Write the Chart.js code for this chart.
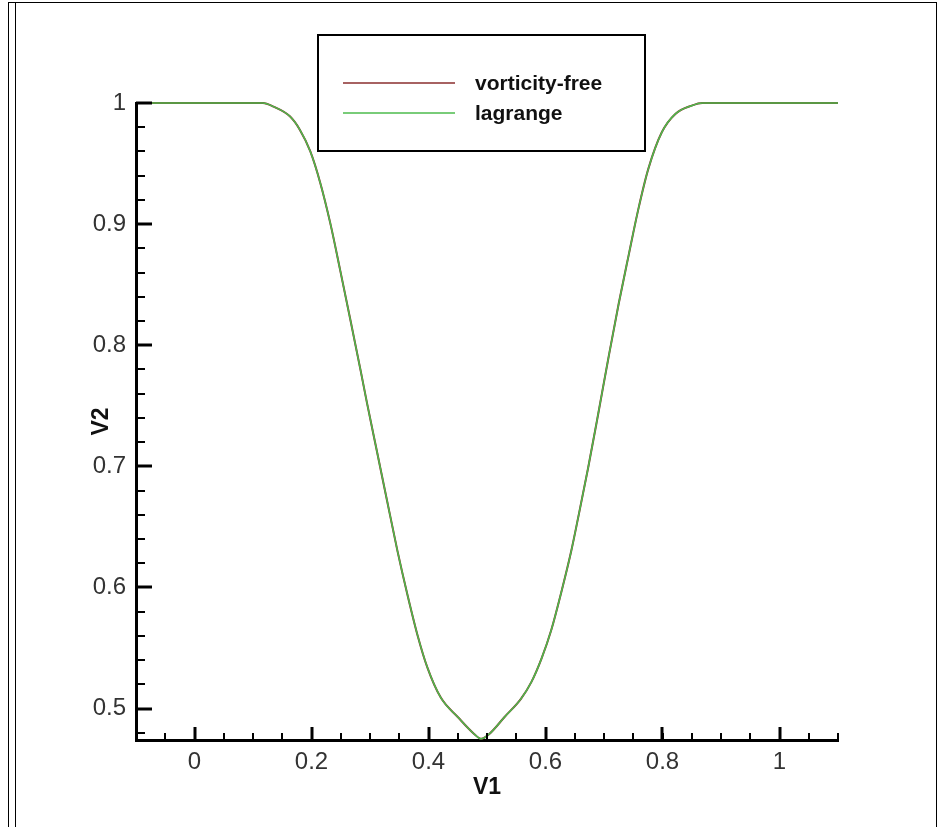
<!DOCTYPE html>
<html>
<head>
<meta charset="utf-8">
<script src="https://cdn.jsdelivr.net/npm/chart.js@4.4.0/dist/chart.umd.min.js"></script>
<style>
html, body { margin: 0; padding: 0; background: #fff; }
#wrap { position: relative; width: 938px; height: 827px; overflow: hidden; }
#frame { position: absolute; left: 8px; top: 2px; width: 927px; height: 830px; border-left: 1px solid #000; border-top: 1px solid #000; border-right: 1px solid #000; }
#frame2 { position: absolute; left: 15px; top: 3px; height: 830px; border-left: 1px solid #000; }
#c { position: absolute; left: 0; top: 0; }
</style>
</head>
<body>
<div id="wrap">
  <div id="frame"></div>
  <div id="frame2"></div>
  <canvas id="c" width="938" height="827"></canvas>
</div>
<script>
// data
const xValues = [-0.1, 0.0, 0.1, 0.117, 0.135, 0.163, 0.180, 0.198, 0.215, 0.232, 0.249, 0.266, 0.284, 0.295,
  0.312, 0.329, 0.347, 0.364, 0.381, 0.398, 0.421, 0.450, 0.478, 0.490, 0.504, 0.530, 0.558, 0.576, 0.593,
  0.610, 0.627, 0.644, 0.656, 0.673, 0.690, 0.707, 0.725, 0.742, 0.759, 0.776, 0.799, 0.822, 0.851, 0.868,
  0.9, 1.0, 1.1];
const vorticityFree = [1, 1, 1, 1.0, 0.997, 0.989, 0.978, 0.960, 0.934, 0.901, 0.862, 0.822, 0.779, 0.752,
  0.712, 0.672, 0.630, 0.594, 0.561, 0.534, 0.509, 0.493, 0.479, 0.475, 0.479, 0.493, 0.508, 0.522, 0.541,
  0.565, 0.596, 0.630, 0.658, 0.699, 0.743, 0.788, 0.834, 0.874, 0.913, 0.946, 0.976, 0.991, 0.998, 1,
  1, 1, 1];
const lagrange = [1, 1, 1, 1.0, 0.997, 0.989, 0.978, 0.960, 0.934, 0.901, 0.862, 0.822, 0.779, 0.752,
  0.712, 0.672, 0.630, 0.594, 0.561, 0.534, 0.509, 0.493, 0.479, 0.475, 0.479, 0.493, 0.508, 0.522, 0.541,
  0.565, 0.596, 0.630, 0.658, 0.699, 0.743, 0.788, 0.834, 0.874, 0.913, 0.946, 0.976, 0.991, 0.998, 1,
  1, 1, 1];
const seriesNames = ['vorticity-free', 'lagrange'];

// tick labels
const xTicks = [0, 0.2, 0.4, 0.6, 0.8, 1];
const xTickLabels = ['0', '0.2', '0.4', '0.6', '0.8', '1'];
const yTicks = [0.5, 0.6, 0.7, 0.8, 0.9, 1];
const yTickLabels = ['0.5', '0.6', '0.7', '0.8', '0.9', '1'];
const xMinorStep = 0.05;
const yMinorStep = 0.02;

const toPoints = (ys) => xValues.map((x, i) => ({ x: x, y: ys[i] }));

// tick marks pointing into the plot, like the original
const innerTicks = {
  id: 'innerTicks',
  afterDraw(chart) {
    const { ctx, chartArea, scales } = chart;
    const xs = scales.x, ys = scales.y;
    ctx.save();
    ctx.strokeStyle = '#000';
    // x minor
    ctx.lineWidth = 2;
    for (let v = xs.min; v <= xs.max + 1e-9; v += xMinorStep) {
      const px = Math.round(xs.getPixelForValue(v));
      ctx.beginPath();
      ctx.moveTo(px, chartArea.bottom);
      ctx.lineTo(px, chartArea.bottom - 7);
      ctx.stroke();
    }
    // y minor
    for (let v = 0.48; v <= ys.max + 1e-9; v += yMinorStep) {
      const py = Math.round(ys.getPixelForValue(v));
      ctx.beginPath();
      ctx.moveTo(chartArea.left, py);
      ctx.lineTo(chartArea.left + 9, py);
      ctx.stroke();
    }
    // majors
    ctx.lineWidth = 3;
    xTicks.forEach(v => {
      const px = Math.round(xs.getPixelForValue(v));
      ctx.beginPath();
      ctx.moveTo(px, chartArea.bottom);
      ctx.lineTo(px, chartArea.bottom - 13);
      ctx.stroke();
    });
    yTicks.forEach(v => {
      const py = Math.round(ys.getPixelForValue(v));
      ctx.beginPath();
      ctx.moveTo(chartArea.left, py);
      ctx.lineTo(chartArea.left + 16, py);
      ctx.stroke();
    });
    ctx.restore();
  }
};

// boxed legend at the top
const boxLegend = {
  id: 'boxLegend',
  afterDraw(chart) {
    const ctx = chart.ctx;
    ctx.save();
    ctx.fillStyle = '#fff';
    ctx.fillRect(318, 35, 327, 116);
    ctx.strokeStyle = '#000';
    ctx.lineWidth = 2;
    ctx.strokeRect(318, 35, 327, 116);
    ctx.font = 'bold 21px "Liberation Sans", Arial, sans-serif';
    ctx.textBaseline = 'middle';
    chart.data.datasets.forEach((ds, i) => {
      const y = 83 + i * 30;
      ctx.strokeStyle = ds.borderColor;
      ctx.lineWidth = 1.5;
      ctx.beginPath();
      ctx.moveTo(343, y);
      ctx.lineTo(455, y);
      ctx.stroke();
      ctx.fillStyle = '#111';
      ctx.fillText(ds.label, 475, y + 1);
    });
    ctx.restore();
  }
};

const ctx = document.getElementById('c').getContext('2d');
const chart = new Chart(ctx, {
  type: 'line',
  data: {
    datasets: [
      {
        label: seriesNames[0],
        data: toPoints(vorticityFree),
        borderColor: '#8a2e2e',
        borderWidth: 2,
        pointRadius: 0,
        cubicInterpolationMode: 'monotone',
        fill: false,
        clip: 4,
        order: 1
      },
      {
        label: seriesNames[1],
        data: toPoints(lagrange),
        borderColor: '#4cbb4c',
        borderWidth: 1.5,
        pointRadius: 0,
        cubicInterpolationMode: 'monotone',
        fill: false,
        clip: 4,
        order: 0
      }
    ]
  },
  options: {
    responsive: false,
    animation: false,
    layout: { padding: { left: 80, right: 100, top: 103, bottom: 20 } },
    plugins: {
      legend: { display: false },
      tooltip: { enabled: false }
    },
    scales: {
      x: {
        type: 'linear',
        min: -0.1,
        max: 1.1,
        afterBuildTicks: (s) => { s.ticks = xTicks.map(v => ({ value: v })); },
        afterFit: (s) => { s.height = 67; },
        ticks: {
          padding: 8,
          color: '#333',
          font: { family: '"Liberation Sans", Arial, sans-serif', size: 24 },
          callback: (v) => xTickLabels[xTicks.indexOf(v)]
        },
        grid: { drawOnChartArea: false, drawTicks: false },
        border: { display: true, color: '#000', width: 3 },
        title: {
          display: true,
          text: 'V1',
          color: '#111',
          padding: { top: 0, bottom: 6 },
          font: { family: '"Liberation Sans", Arial, sans-serif', size: 23, weight: 'bold' }
        }
      },
      y: {
        type: 'linear',
        min: 0.474,
        max: 1,
        afterBuildTicks: (s) => { s.ticks = yTicks.map(v => ({ value: v })); },
        afterFit: (s) => { s.width = 56; },
        ticks: {
          padding: 10,
          color: '#333',
          font: { family: '"Liberation Sans", Arial, sans-serif', size: 24 },
          callback: (v) => yTickLabels[yTicks.indexOf(v)]
        },
        grid: { drawOnChartArea: false, drawTicks: false },
        border: { display: true, color: '#000', width: 3 },
        title: {
          display: true,
          text: 'V2',
          color: '#111',
          padding: { top: 8, bottom: 0 },
          font: { family: '"Liberation Sans", Arial, sans-serif', size: 23, weight: 'bold' }
        }
      }
    }
  },
  plugins: [innerTicks, boxLegend]
});
</script>
</body>
</html>
